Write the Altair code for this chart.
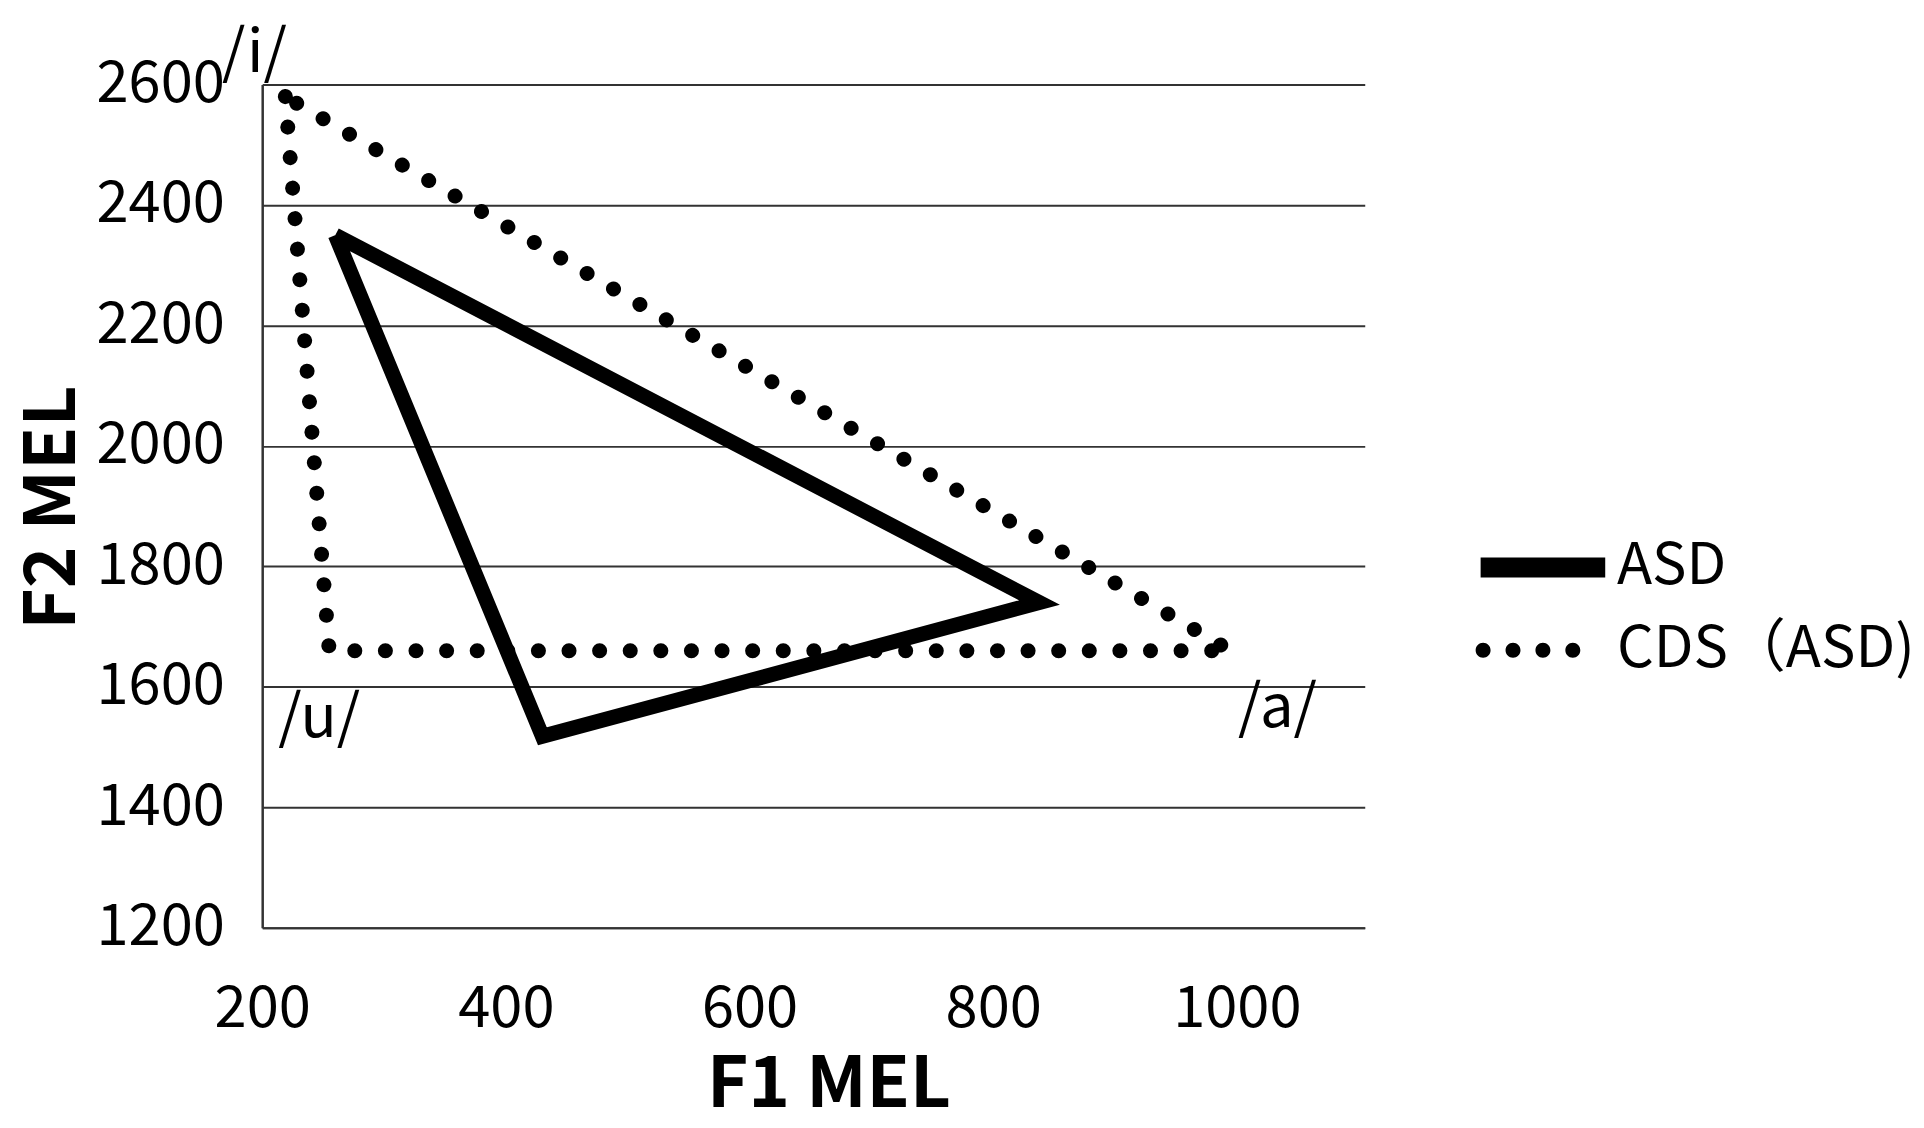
import altair as alt
import pandas as pd

# ---- data ----
asd_f1 = [260, 430, 838, 260]
asd_f2 = [2350, 1518, 1740, 2350]

cds_f1 = [219, 255, 995, 219]
cds_f2 = [2580, 1660, 1660, 2580]
cds_vowel = ["/i/", "/u/", "/a/", ""]

series_names = ["ASD", "CDS（ASD)"]
y_ticks = [1200, 1400, 1600, 1800, 2000, 2200, 2400, 2600]
x_ticks = [200, 400, 600, 800, 1000]

asd = pd.DataFrame({"f1": asd_f1, "f2": asd_f2, "idx": range(len(asd_f1)), "group": series_names[0]})
cds = pd.DataFrame({"f1": cds_f1, "f2": cds_f2, "idx": range(len(cds_f1)), "group": series_names[1], "vowel": cds_vowel})
both = pd.concat([asd.iloc[:3], cds.iloc[:3]], ignore_index=True)

FONT = "Noto Sans CJK JP"
FS = 58
TFS = 71

x_enc = alt.X("f1:Q", scale=alt.Scale(domain=[200, 1105], nice=False, zero=False),
              axis=alt.Axis(values=x_ticks, format="d", title="F1 MEL", grid=False, ticks=False,
                            labelFlush=False, labelOverlap=False,
                            labelFontSize=FS, labelPadding=53, labelColor="black", labelFont=FONT,
                            domainColor="#333333", domainWidth=2,
                            titleFont=FONT, titleFontSize=TFS, titleFontWeight="bold", titleColor="black",
                            titleX=568, titleY=179, titleBaseline="alphabetic", titleAlign="center"))
y_enc = alt.Y("f2:Q", scale=alt.Scale(domain=[1200, 2600], nice=False, zero=False),
              axis=alt.Axis(values=y_ticks, format="d", title="F2 MEL", grid=True, gridColor="#333333",
                            gridWidth=2, gridOpacity=1, ticks=False, labelFontSize=FS, labelPadding=38,
                            labelFlush=False, labelOverlap=False,
                            labelColor="black", labelFont=FONT,
                            domainColor="#333333", domainWidth=2.5,
                            titleFont=FONT, titleFontSize=TFS, titleFontWeight="bold", titleColor="black",
                            titleX=-188, titleY=424, titleBaseline="alphabetic", titleAlign="center"))

asd_line = alt.Chart(asd).mark_line(color="black", strokeWidth=15, strokeJoin="miter").encode(
    x=x_enc, y=y_enc, order="idx:Q")

cds_line = alt.Chart(cds).mark_line(color="black", strokeWidth=15, strokeCap="round",
                                    strokeDash=[0.1, 30.6]).encode(
    x="f1:Q", y="f2:Q", order="idx:Q")

def circle(cx, r=0.24):
    return f"M{cx - r},0A{r},{r} 0 1,0 {cx + r},0A{r},{r} 0 1,0 {cx - r},0Z"

# legend glyphs (unit = sqrt(symbolSize)/2 px)
bar_path = "M-1,-0.32L3,-0.32L3,0.32L-1,0.32Z"
dots_path = "".join(circle(c) for c in [-0.92, 0.04, 1.0, 1.96])

legend_pts = alt.Chart(both).mark_point(filled=True, opacity=0, size=3906, color="black").encode(
    x="f1:Q", y="f2:Q",
    shape=alt.Shape("group:N",
                    scale=alt.Scale(domain=series_names, range=[bar_path, dots_path]),
                    legend=alt.Legend(title=None, orient="none", legendX=1222, legendY=453,
                                      symbolSize=3906, symbolFillColor="black", symbolOpacity=1,
                                      symbolStrokeWidth=0, labelFontSize=FS, labelFont=FONT,
                                      labelColor="black", labelOffset=74, rowPadding=22,
                                      padding=0, labelLimit=600)))

label_offsets = {"/i/": (-31, -43), "/u/": (-10, 69), "/a/": (47, 58)}
text_layers = []
for v, (dx, dy) in label_offsets.items():
    text_layers.append(
        alt.Chart(cds).transform_filter(alt.datum.vowel == v).mark_text(
            fontSize=60, font=FONT, color="black", dx=dx, dy=dy, align="center", baseline="middle"
        ).encode(x="f1:Q", y="f2:Q", text="vowel:N"))

chart = alt.layer(asd_line, cds_line, legend_pts, *text_layers).properties(
    width=1106, height=846,
    autosize=alt.AutoSizeParams(type="none"),
    padding={"left": 255, "top": 75, "right": 553, "bottom": 194},
    background="white",
).configure_view(stroke=None)

chart.save("out.html", embed_options={"renderer": "svg", "actions": False})
